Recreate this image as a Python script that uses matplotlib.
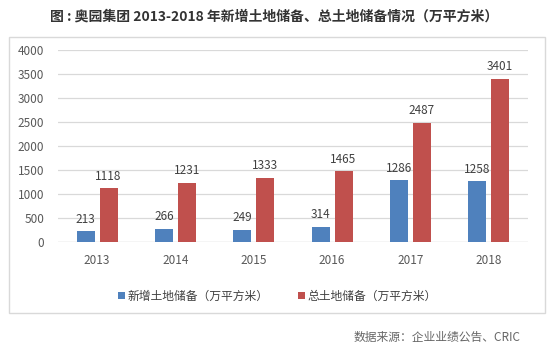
import matplotlib
matplotlib.use("Agg")
import matplotlib.pyplot as plt
from matplotlib.patches import Rectangle
import numpy as np

plt.rcParams['font.family'] = ['Noto Sans CJK SC', 'DejaVu Sans']

years = ['2013', '2014', '2015', '2016', '2017', '2018']
new_land = [213, 266, 249, 314, 1286, 1258]
total_land = [1118, 1231, 1333, 1465, 2487, 3401]
labels = ['新增土地储备（万平方米）', '总土地储备（万平方米）']
yticks = [0, 500, 1000, 1500, 2000, 2500, 3000, 3500, 4000]

blue = '#4F81BD'
red = '#C0504D'
txt = '#595959'

fig = plt.figure(figsize=(5.52, 3.52), dpi=100)
fig.patch.set_facecolor('white')

W, H = 552, 352
# chart frame
fig.patches.append(Rectangle((9 / W, 1 - 313 / H), (545 - 9) / W, (313 - 37) / H,
                             transform=fig.transFigure, fill=False,
                             edgecolor='#D9D9D9', linewidth=1.0))

ax = fig.add_axes([58 / W, 1 - 241.7 / H, (528 - 58) / W, (241.7 - 50) / H])
x = np.arange(len(years))
bw = 0.23
off = 0.145
b1 = ax.bar(x - off, new_land, bw, color=blue, label=labels[0], zorder=3)
b2 = ax.bar(x + off, total_land, bw, color=red, label=labels[1], zorder=3)

for bars, vals in ((b1, new_land), (b2, total_land)):
    for r, v in zip(bars, vals):
        ax.annotate(str(v), (r.get_x() + r.get_width() / 2, v), xytext=(0, 4),
                    textcoords='offset points', ha='center', va='bottom',
                    fontsize=8.5, color='#404040')

ax.set_xlim(-0.5, len(years) - 0.5)
ax.set_ylim(0, 4000)
ax.set_yticks(yticks)
ax.set_yticklabels([str(v) for v in yticks])
ax.set_xticks(x)
ax.set_xticklabels(years)
ax.tick_params(axis='both', length=0, labelsize=8.5, colors=txt)
ax.tick_params(axis='y', pad=10)
ax.tick_params(axis='x', pad=9)
ax.yaxis.grid(True, color='#D9D9D9', linewidth=0.9, zorder=0)
for s in ax.spines.values():
    s.set_visible(False)
ax.axhline(0, color='#D9D9D9', linewidth=0.9, zorder=2)

fig.legend(handles=[b1, b2], labels=labels, loc='center',
           bbox_to_anchor=(277 / W, 1 - 296 / H), ncol=2, frameon=False,
           fontsize=8.5, handlelength=0.6, handleheight=0.6, handletextpad=0.2,
           columnspacing=2.5, labelcolor='#404040')

fig.text(274 / W, 1 - 17 / H, '图 : 奥园集团 2013-2018 年新增土地储备、总土地储备情况（万平方米）',
         ha='center', va='center', fontsize=10, fontweight='bold', color='#333333')

fig.text(521 / W, 1 - 337 / H, '数据来源：企业业绩公告、CRIC', ha='right', va='center',
         fontsize=8.5, color='#666666')

fig.savefig('out.png', dpi=100)
